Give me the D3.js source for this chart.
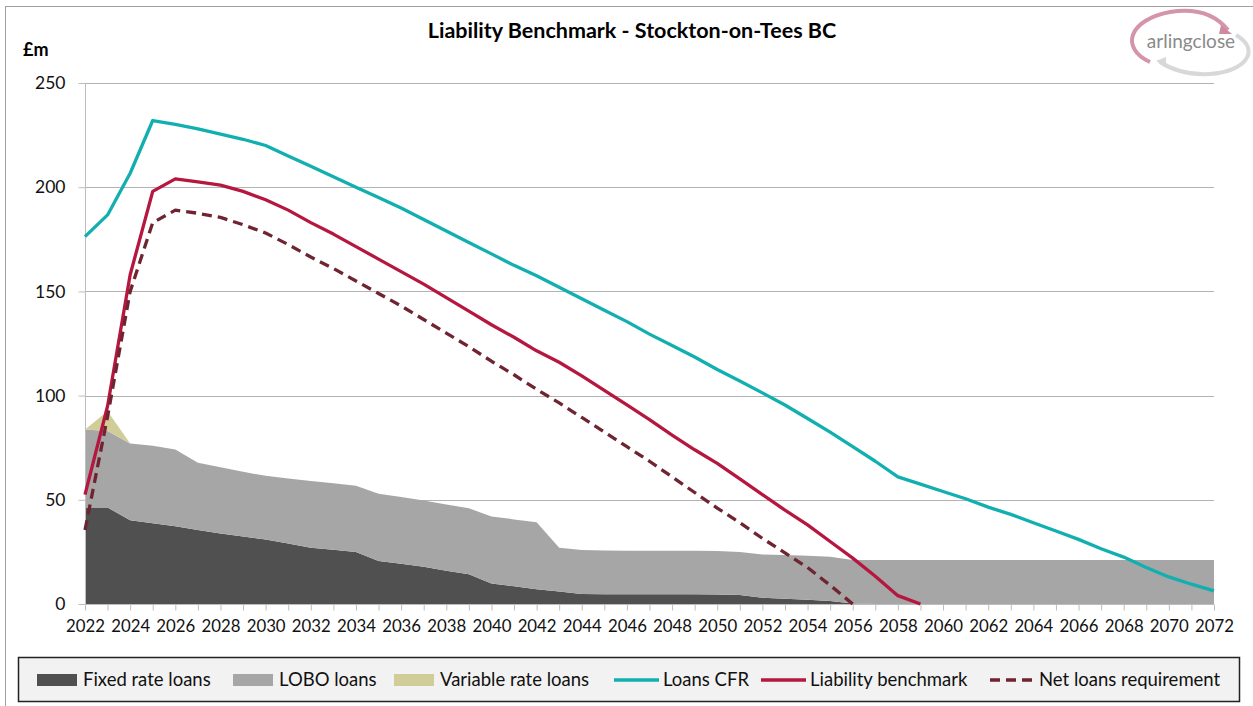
<!DOCTYPE html>
<html>
<head>
<meta charset="utf-8">
<script src="https://cdn.jsdelivr.net/npm/d3@7"></script>
<style>
  body { margin: 0; background: #fff; }
  svg text { font-family: Lato, "Noto Sans", sans-serif; }
</style>
</head>
<body>
<div id="main-container"></div>
<script>
// datos (GBP millones)
const years = [2022, 2023, 2024, 2025, 2026, 2027, 2028, 2029, 2030, 2031,
    2032, 2033, 2034, 2035, 2036, 2037, 2038, 2039, 2040, 2041,
    2042, 2043, 2044, 2045, 2046, 2047, 2048, 2049, 2050, 2051,
    2052, 2053, 2054, 2055, 2056, 2057, 2058, 2059, 2060, 2061,
    2062, 2063, 2064, 2065, 2066, 2067, 2068, 2069, 2070, 2071, 2072];
const xTickLabels = [2022, 2024, 2026, 2028, 2030, 2032, 2034, 2036, 2038, 2040,
    2042, 2044, 2046, 2048, 2050, 2052, 2054, 2056, 2058, 2060,
    2062, 2064, 2066, 2068, 2070, 2072];
const yTicks = [0, 50, 100, 150, 200, 250];

const fixedRate = [46.3, 46.3, 40.2, 38.8, 37.3, 35.5, 33.8, 32.4, 31, 29,
    27, 26, 24.9, 20.6, 19.3, 17.9, 16, 14.3, 9.8, 8.5,
    7.1, 6, 4.8, 4.7, 4.7, 4.7, 4.7, 4.7, 4.6, 4.3,
    3, 2.5, 2, 1.4, 0.3, 0, 0, 0, 0, 0,
    0, 0, 0, 0, 0, 0, 0, 0, 0, 0, 0];
const loboLoans = [37.4, 36.7, 36.8, 37.1, 36.8, 32.3, 31.8, 31, 30.5, 31.2,
    32, 32, 31.8, 32.3, 32, 31.8, 31.8, 31.7, 32.2, 32.1,
    32.1, 21, 21.1, 21, 20.9, 20.9, 20.8, 20.8, 20.8, 20.6,
    20.8, 21, 21.1, 21.3, 20.8, 21.1, 21.1, 21.1, 21.1, 21.1,
    21.1, 21.1, 21.1, 21.1, 21.1, 21.1, 21.1, 21.1, 21.1, 21.1, 21.1];
const variableRate = [0, 9.5, 0, 0, 0, 0, 0, 0, 0, 0,
    0, 0, 0, 0, 0, 0, 0, 0, 0, 0,
    0, 0, 0, 0, 0, 0, 0, 0, 0, 0,
    0, 0, 0, 0, 0, 0, 0, 0, 0, 0,
    0, 0, 0, 0, 0, 0, 0, 0, 0, 0, 0];
const loansCFR = [176.3, 186.7, 206.7, 232, 230.2, 228, 225.5, 223, 220, 215,
    210, 205, 200, 195, 190, 184.5, 179, 173.5, 168, 162.5,
    157.5, 152, 146.5, 141, 135.5, 129.5, 124, 118.5, 112.5, 107,
    101.3, 95.5, 89, 82.5, 75.5, 68.5, 61, 57.5, 54, 50.5,
    46.5, 43, 39, 35, 31, 26.5, 22.5, 17.5, 13, 9.5, 6.3];
const liabilityBenchmark = [52.5, 95, 158, 198, 204, 202.5, 201, 198, 194, 189,
    183, 177.5, 171.5, 165.5, 159.5, 153.5, 147, 140.5, 134, 128,
    121.5, 116, 109.5, 102.5, 95.5, 88.5, 81, 74, 67.5, 60,
    52.5, 45, 38, 30, 22, 13.3, 4, 0, null, null,
    null, null, null, null, null, null, null, null, null, null, null];
const netLoansRequirement = [35.5, 90, 150, 183, 189, 187.5, 185.5, 182, 178, 172.5,
    166.5, 161, 155, 149, 143, 136.5, 130, 123.5, 116.5, 110,
    103, 96.5, 89.5, 82.5, 75.5, 68.5, 61, 53.5, 46, 39,
    31.5, 24.5, 17.5, 9, 0, null, null, null, null, null,
    null, null, null, null, null, null, null, null, null, null, null];

const colores = {
    fixed: "#505050",
    lobo: "#a6a6a6",
    variable: "#d1cd98",
    cfr: "#12afb0",
    liability: "#b5173f",
    net: "#6e2531"
};

const width = 1253, height = 706;
const svg = d3.select("#main-container").append("svg")
    .attr("width", width).attr("height", height);

// borde exterior
svg.append("rect")
    .attr("x", 5.5).attr("y", 6.5)
    .attr("width", 1300).attr("height", 800)
    .attr("fill", "#fff").attr("stroke", "#a0a0a0");

const escalaX = d3.scaleLinear().domain([2022, 2072]).range([85, 1214]);
const escalaY = d3.scaleLinear().domain([0, 250]).range([604, 83]);

// gridlines
svg.append("g")
    .selectAll("line")
    .data(yTicks.filter(d => d > 0))
    .join("line")
    .attr("x1", escalaX(2022)).attr("x2", escalaX(2072))
    .attr("y1", d => Math.round(escalaY(d)) + 0.5)
    .attr("y2", d => Math.round(escalaY(d)) + 0.5)
    .attr("stroke", "#b3b3b3").attr("stroke-width", 1.2);

// areas apiladas
const filas = years.map((y, i) => ({
    year: y, fixed: fixedRate[i], lobo: loboLoans[i], variable: variableRate[i]
}));
const stack = d3.stack().keys(["fixed", "lobo", "variable"]);
const series = stack(filas);
const area = d3.area()
    .x(d => escalaX(d.data.year))
    .y0(d => escalaY(d[0]))
    .y1(d => escalaY(d[1]));
svg.append("g")
    .selectAll("path")
    .data(series)
    .join("path")
    .attr("d", area)
    .attr("fill", d => colores[d.key]);

// ejes
const ejeY = d3.axisLeft(escalaY).tickValues(yTicks).tickSize(7).tickPadding(13);
const gY = svg.append("g")
    .attr("transform", "translate(85.5,0)")
    .call(ejeY);
gY.select(".domain").attr("stroke", "#bdbdbd").attr("d", "M0,83V604");
gY.selectAll(".tick line").attr("stroke", "#bdbdbd");
gY.selectAll(".tick text")
    .attr("font-size", 17.5).attr("fill", "#111")
    .style("font-family", "Lato, sans-serif");

const ejeX = d3.axisBottom(escalaX)
    .tickValues(years)
    .tickSize(6)
    .tickPadding(10)
    .tickFormat(d => xTickLabels.includes(d) ? d : "");
const gX = svg.append("g")
    .attr("transform", "translate(0,604.5)")
    .call(ejeX);
gX.select(".domain").attr("stroke", "#bdbdbd").attr("d", "M85,0H1214");
gX.selectAll(".tick line").attr("stroke", "#bdbdbd");
gX.selectAll(".tick text")
    .attr("font-size", 16.8).attr("fill", "#111")
    .style("font-family", "Lato, sans-serif");

// lineas
function dibujarLinea(valores, color, dash) {
    const linea = d3.line()
        .defined(d => d[1] !== null)
        .x(d => escalaX(d[0]))
        .y(d => escalaY(d[1]));
    svg.append("path")
        .datum(years.map((y, i) => [y, valores[i]]))
        .attr("d", linea)
        .attr("fill", "none")
        .attr("stroke", color)
        .attr("stroke-width", 3.3)
        .attr("stroke-linejoin", "round")
        .attr("stroke-dasharray", dash ? "10,6" : null);
}
dibujarLinea(loansCFR, colores.cfr, false);
dibujarLinea(liabilityBenchmark, colores.liability, false);
dibujarLinea(netLoansRequirement, colores.net, true);

// titulo
svg.append("text")
    .attr("x", 632).attr("y", 38)
    .attr("text-anchor", "middle")
    .attr("font-size", 21.5).attr("font-weight", "bold")
    .attr("fill", "#000")
    .text("Liability Benchmark - Stockton-on-Tees BC");
svg.append("text")
    .attr("x", 23).attr("y", 56)
    .attr("font-size", 18).attr("font-weight", "bold")
    .attr("fill", "#000")
    .text("£m");

// logo
const logo = svg.append("g");
logo.append("path")
    .attr("d", "M1150,62 C1120,48 1128,20 1170,12 C1195,8 1215,14 1228,30")
    .attr("fill", "none").attr("stroke", "#cf8aa0").attr("stroke-width", 4).attr("opacity", 0.9);
logo.append("path")
    .attr("d", "M1221,25 L1232,34 L1219,34 Z").attr("fill", "#cf8aa0");
logo.append("path")
    .attr("d", "M1236,35 C1262,50 1245,72 1210,74 C1190,75 1172,70 1160,62")
    .attr("fill", "none").attr("stroke", "#d8d8d8").attr("stroke-width", 4);
logo.append("path")
    .attr("d", "M1166,57 L1156,61 L1166,67 Z").attr("fill", "#d8d8d8");
logo.append("text")
    .attr("x", 1191).attr("y", 48)
    .attr("text-anchor", "middle")
    .attr("font-size", 19).attr("fill", "#8a8a8a")
    .text("arlingclose");

// leyenda
const leyenda = svg.append("g");
leyenda.append("rect")
    .attr("x", 18.5).attr("y", 657.5).attr("width", 1221).attr("height", 44)
    .attr("fill", "#f2f2f2").attr("stroke", "#222").attr("stroke-width", 1.5);
const itemsLeyenda = [
    {label: "Fixed rate loans", tipo: "area", color: colores.fixed, x: 37},
    {label: "LOBO loans", tipo: "area", color: colores.lobo, x: 233},
    {label: "Variable rate loans", tipo: "area", color: colores.variable, x: 394},
    {label: "Loans CFR", tipo: "line", color: colores.cfr, x: 614},
    {label: "Liability benchmark", tipo: "line", color: colores.liability, x: 761},
    {label: "Net loans requirement", tipo: "dash", color: colores.net, x: 990}
];
const item = leyenda.selectAll("g")
    .data(itemsLeyenda)
    .join("g")
    .attr("transform", d => `translate(${d.x},680)`);
item.filter(d => d.tipo === "area").append("rect")
    .attr("x", 0).attr("y", -6).attr("width", 40).attr("height", 12)
    .attr("fill", d => d.color);
item.filter(d => d.tipo !== "area").append("line")
    .attr("x1", 0).attr("x2", 45).attr("y1", 0).attr("y2", 0)
    .attr("stroke", d => d.color).attr("stroke-width", 3.3)
    .attr("stroke-dasharray", d => d.tipo === "dash" ? "10,6" : null);
item.append("text")
    .attr("x", d => d.tipo === "area" ? 46 : 49)
    .attr("y", 6)
    .attr("font-size", 18.5).attr("fill", "#111")
    .text(d => d.label);
</script>
</body>
</html>
